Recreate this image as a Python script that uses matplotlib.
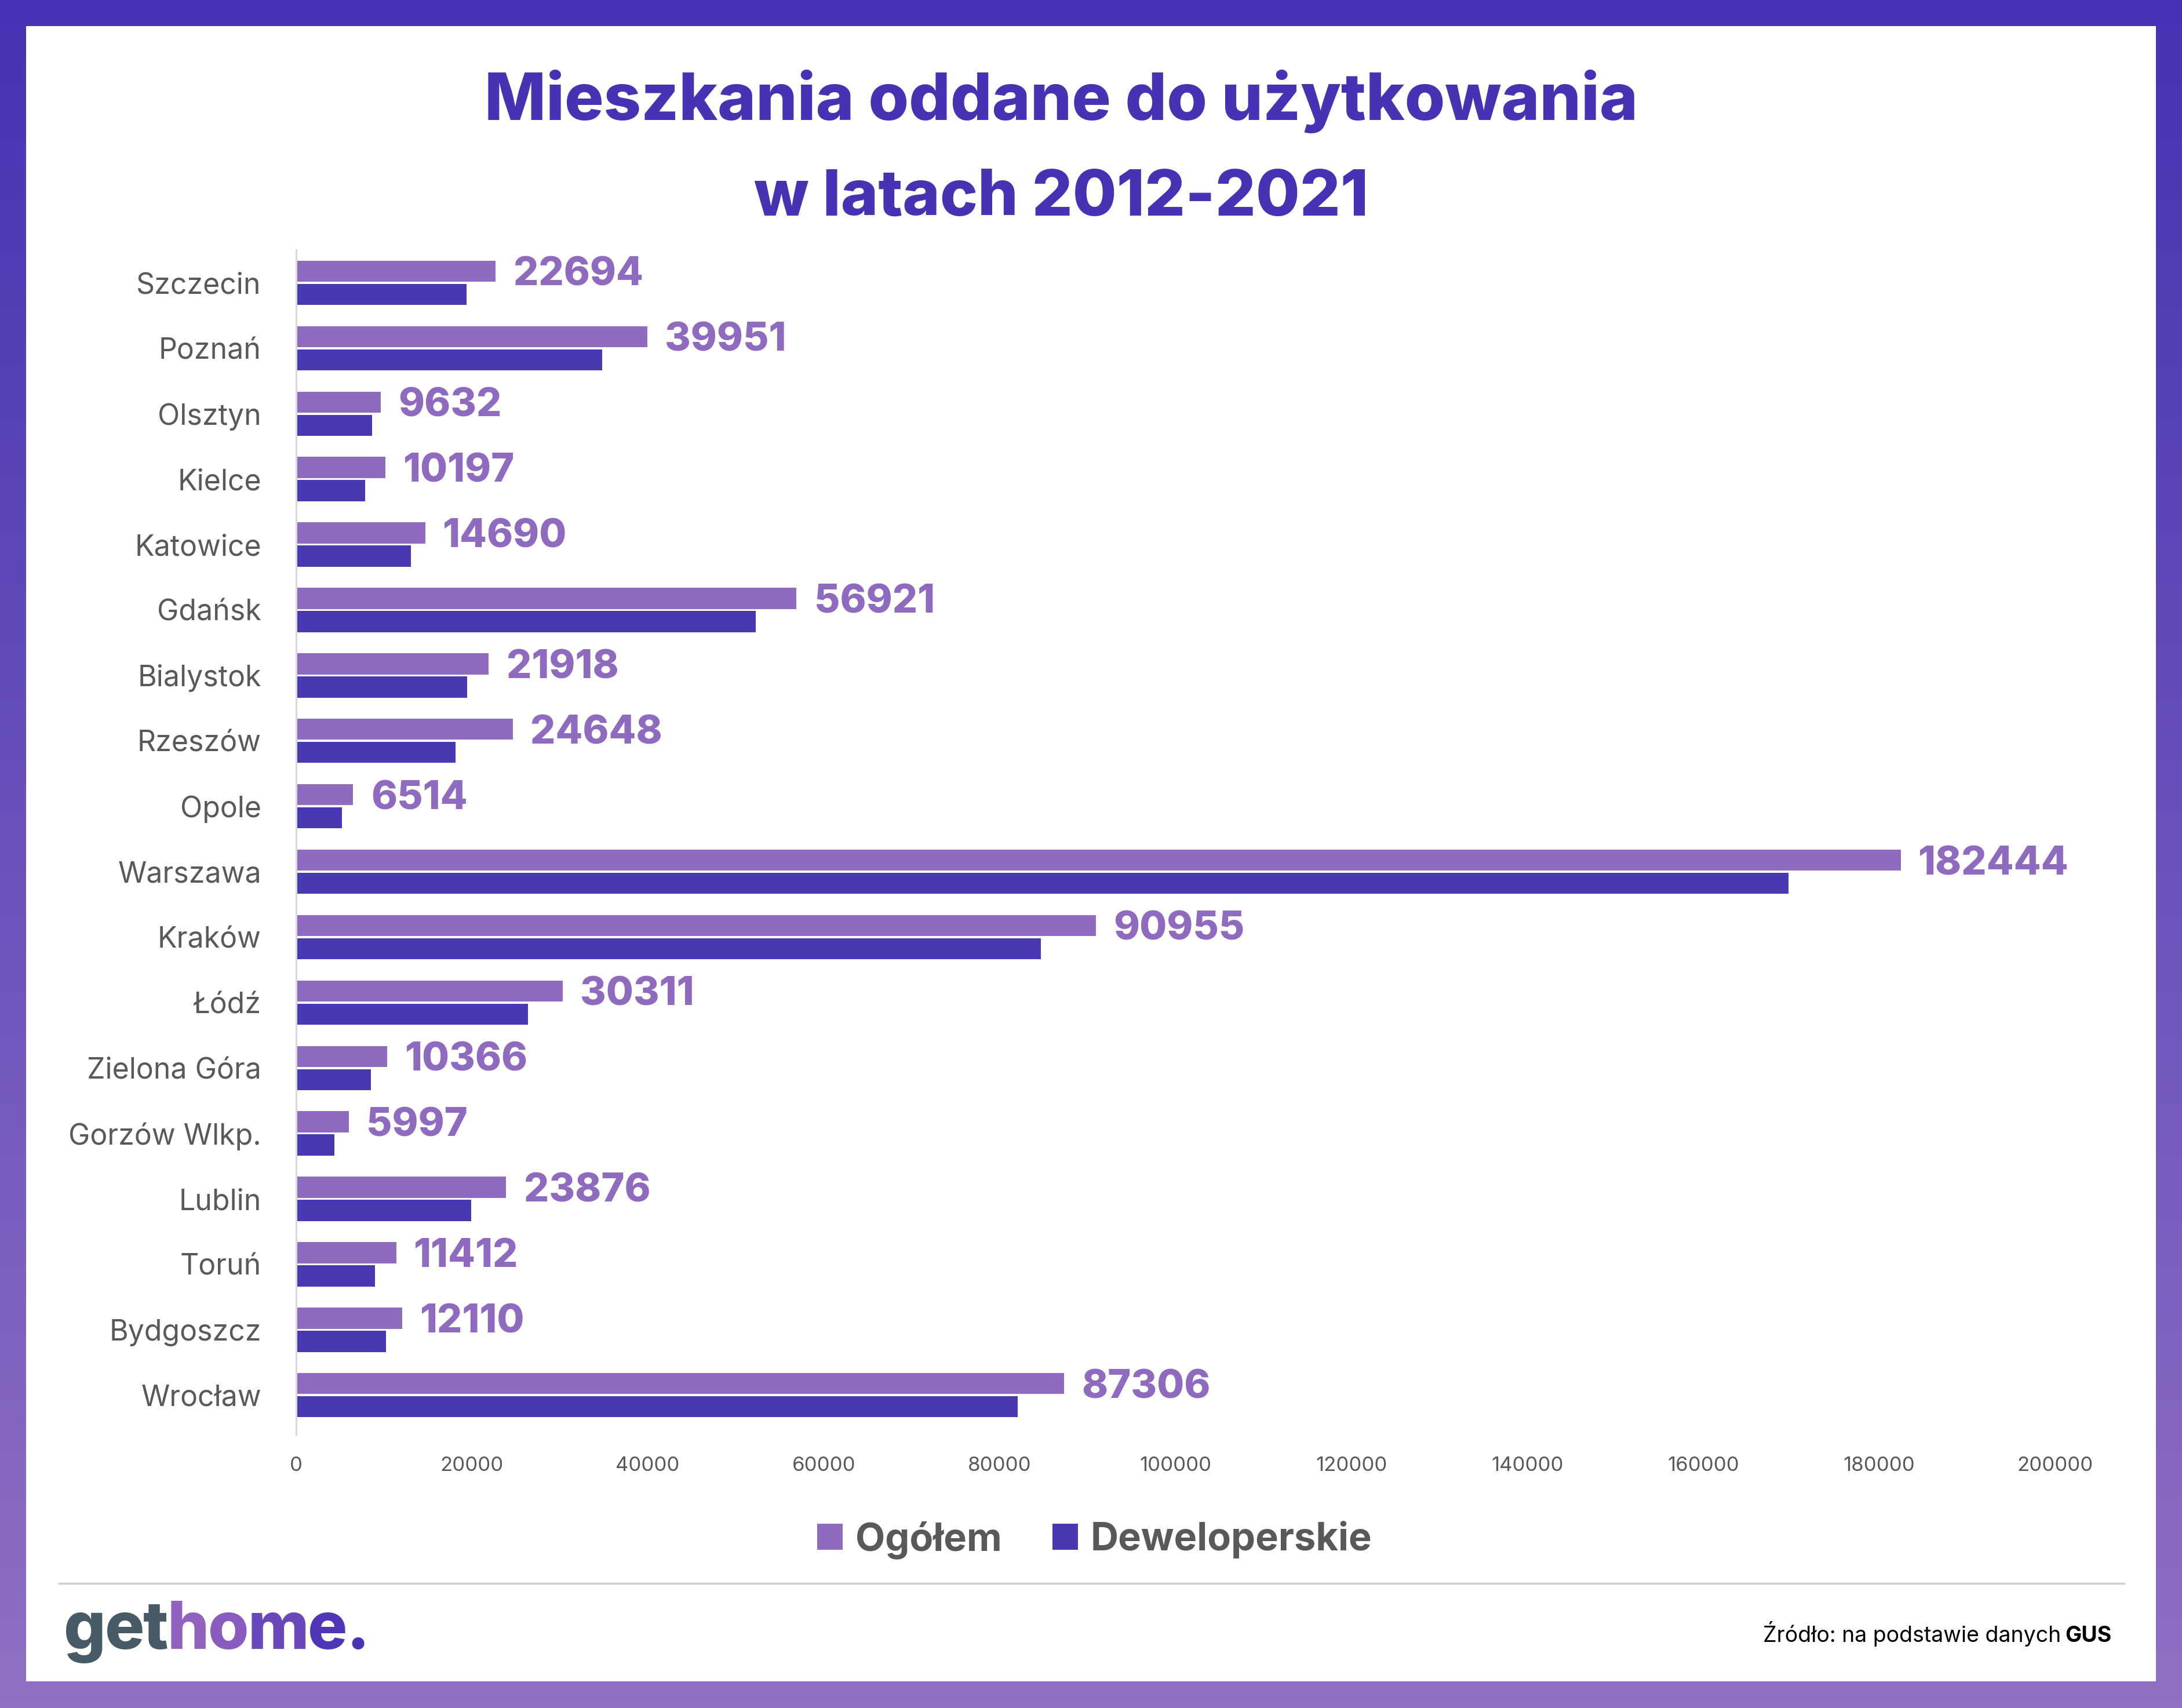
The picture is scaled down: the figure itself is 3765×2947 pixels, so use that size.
import matplotlib
matplotlib.use('Agg')
import matplotlib.pyplot as plt
import numpy as np
from matplotlib.colors import LinearSegmentedColormap
from matplotlib.patches import Rectangle, Patch

plt.rcParams['font.family'] = ['Inter', 'DejaVu Sans']

cities = ['Szczecin', 'Poznań', 'Olsztyn', 'Kielce', 'Katowice', 'Gdańsk',
          'Bialystok', 'Rzeszów', 'Opole', 'Warszawa', 'Kraków', 'Łódź',
          'Zielona Góra', 'Gorzów Wlkp.', 'Lublin', 'Toruń', 'Bydgoszcz',
          'Wrocław']
ogolem = [22694, 39951, 9632, 10197, 14690, 56921, 21918, 24648, 6514,
          182444, 90955, 30311, 10366, 5997, 23876, 11412, 12110, 87306]
deweloperskie = [19400, 34800, 8650, 7850, 13050, 52250, 19450, 18150, 5200,
                 169700, 84700, 26400, 8550, 4350, 19900, 9000, 10250, 82050]
xticks = [0, 20000, 40000, 60000, 80000, 100000, 120000, 140000, 160000,
          180000, 200000]

W, H = 3766, 2947
c_ogolem = '#8f6bc0'
c_dewel = '#4838b2'
c_title = '#4633b3'
c_grey = '#595959'

fig = plt.figure(figsize=(W / 100, H / 100), dpi=100)

# gradient frame
bg = fig.add_axes([0, 0, 1, 1], zorder=-10)
grad = LinearSegmentedColormap.from_list('frame', ['#4633b3', '#9070c4'])
bg.imshow(np.linspace(0, 1, 256).reshape(-1, 1), aspect='auto', cmap=grad,
          extent=[0, 1, 0, 1])
bg.add_patch(Rectangle((45 / W, 1 - 2901 / H), (3720 - 45) / W,
                       (2901 - 45) / H, facecolor='white', edgecolor='none'))
bg.set_xlim(0, 1)
bg.set_ylim(0, 1)
bg.axis('off')

# title
fig.text(1831 / W, 1 - 207 / H, 'Mieszkania oddane do użytkowania',
         ha='center', va='baseline', fontsize=81, fontweight='heavy',
         color=c_title)
fig.text(1831 / W, 1 - 372 / H, 'w latach 2012-2021',
         ha='center', va='baseline', fontsize=79, fontweight='heavy',
         color=c_title)

# bars
ax = fig.add_axes([510.6 / W, 1 - 2475 / H, (3546 - 510.6) / W,
                   (2475 - 431.5) / H])
y = np.arange(len(cities))
h = 0.322
ax.barh(y - 0.177, ogolem, height=h, color=c_ogolem, label='Ogółem')
ax.barh(y + 0.177, deweloperskie, height=h, color=c_dewel,
        label='Deweloperskie')

for yi, v in zip(y, ogolem):
    ax.annotate(str(v), (v, yi - 0.177), xytext=(22, 0),
                textcoords='offset points', ha='left',
                va='center_baseline', fontsize=49, fontweight='heavy',
                color=c_ogolem)

ax.set_xlim(0, 200000)
ax.set_ylim(17.6, -0.5)
ax.set_yticks(y)
ax.set_yticklabels(cities, fontsize=36, color=c_grey)
ax.set_xticks(xticks)
ax.set_xticklabels([str(t) for t in xticks], fontsize=25, color=c_grey)
ax.tick_params(axis='y', length=0, pad=43)
ax.tick_params(axis='x', length=0, pad=27)
for s in ['top', 'right', 'bottom']:
    ax.spines[s].set_visible(False)
ax.spines['left'].set_color('#d9d9d9')
ax.spines['left'].set_linewidth(2.2)

# legend
handles = [Patch(facecolor=c_ogolem, label='Ogółem'),
           Patch(facecolor=c_dewel, label='Deweloperskie')]
leg = fig.legend(handles=handles, loc='center', ncol=2, frameon=False,
                 bbox_to_anchor=(1889 / W, 1 - 2657 / H),
                 prop={'size': 48, 'weight': 'bold'},
                 handlelength=0.66, handleheight=0.66, handletextpad=0.33,
                 columnspacing=1.3, borderpad=0)
for t in leg.get_texts():
    t.set_color(c_grey)

# separator
bg.plot([102 / W, 3665 / W], [1 - 2732 / H, 1 - 2732 / H], color='#d0d0d0',
        lw=2.5)

# logo
renderer = fig.canvas.get_renderer()
logo = [('g', '#475b66'), ('e', '#475b66'), ('t', '#475b66'),
        ('h', '#9262c0'), ('o', '#8a5cbf'), ('m', '#6a48bc'),
        ('e', '#4e36b6'), ('.', '#4a33b4')]
xpos = 110
for ch, col in logo:
    t = fig.text(xpos / W, 1 - 2845 / H, ch, ha='left', va='baseline',
                 fontsize=82, fontweight='heavy', color=col)
    xpos += t.get_window_extent(renderer).width - 2

# source
gus = fig.text(3644 / W, 1 - 2833 / H, 'GUS', ha='right', va='baseline',
               fontsize=27, fontweight='bold', color='black')
gw = gus.get_window_extent(renderer).width
fig.text((3644 - gw - 7) / W, 1 - 2833 / H, 'Źródło: na podstawie danych',
         ha='right', va='baseline', fontsize=27, color='black')

fig.savefig('out.png', dpi=100)
